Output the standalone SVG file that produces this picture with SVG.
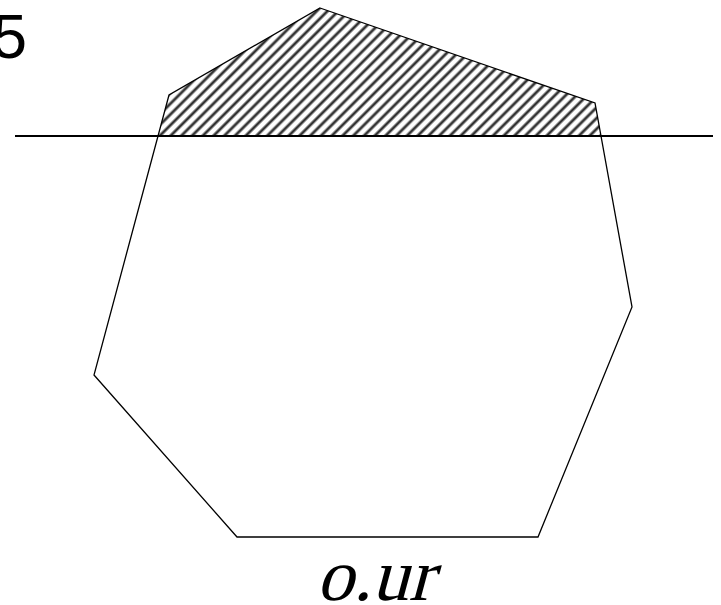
<svg xmlns="http://www.w3.org/2000/svg" width="721" height="605" viewBox="0 0 721 605">
<style>
.outline{fill:none;stroke:#000;stroke-width:1.3;stroke-linejoin:miter}
.hatch{stroke:#333;stroke-width:2.8}
.num{font-family:"Liberation Sans",Arial,sans-serif;font-size:63px;fill:#000}
.lbl{font-family:"Liberation Serif","Times New Roman",serif;font-size:74px;fill:#000}
</style>
<defs>
<pattern id="hatch" patternUnits="userSpaceOnUse" width="7.6" height="20" patternTransform="rotate(45)">
<rect width="7.6" height="20" fill="#fff"/>
<line class="hatch" x1="3.8" y1="-1" x2="3.8" y2="21"/>
</pattern>
<clipPath id="above"><rect x="0" y="0" width="721" height="136"/></clipPath>
</defs>
<rect width="721" height="605" fill="#fff"/>
<g id="hatched-region">
<polygon points="320,8 595,103 632,307 538,537 237,537 94,375 169,95" fill="url(#hatch)" clip-path="url(#above)"/>
</g>
<g id="polygon">
<polygon class="outline" points="320,8 595,103 632,307 538,537 237,537 94,375 169,95"/>
</g>
<g id="line">
<line x1="15" y1="136" x2="713" y2="136" stroke="#000" stroke-width="2"/>
</g>
<text class="num" x="-8" y="58">5</text>
<g transform="translate(316,600) skewX(-15)">
<text class="lbl" x="0" y="0">o.ur</text>
</g>
</svg>
